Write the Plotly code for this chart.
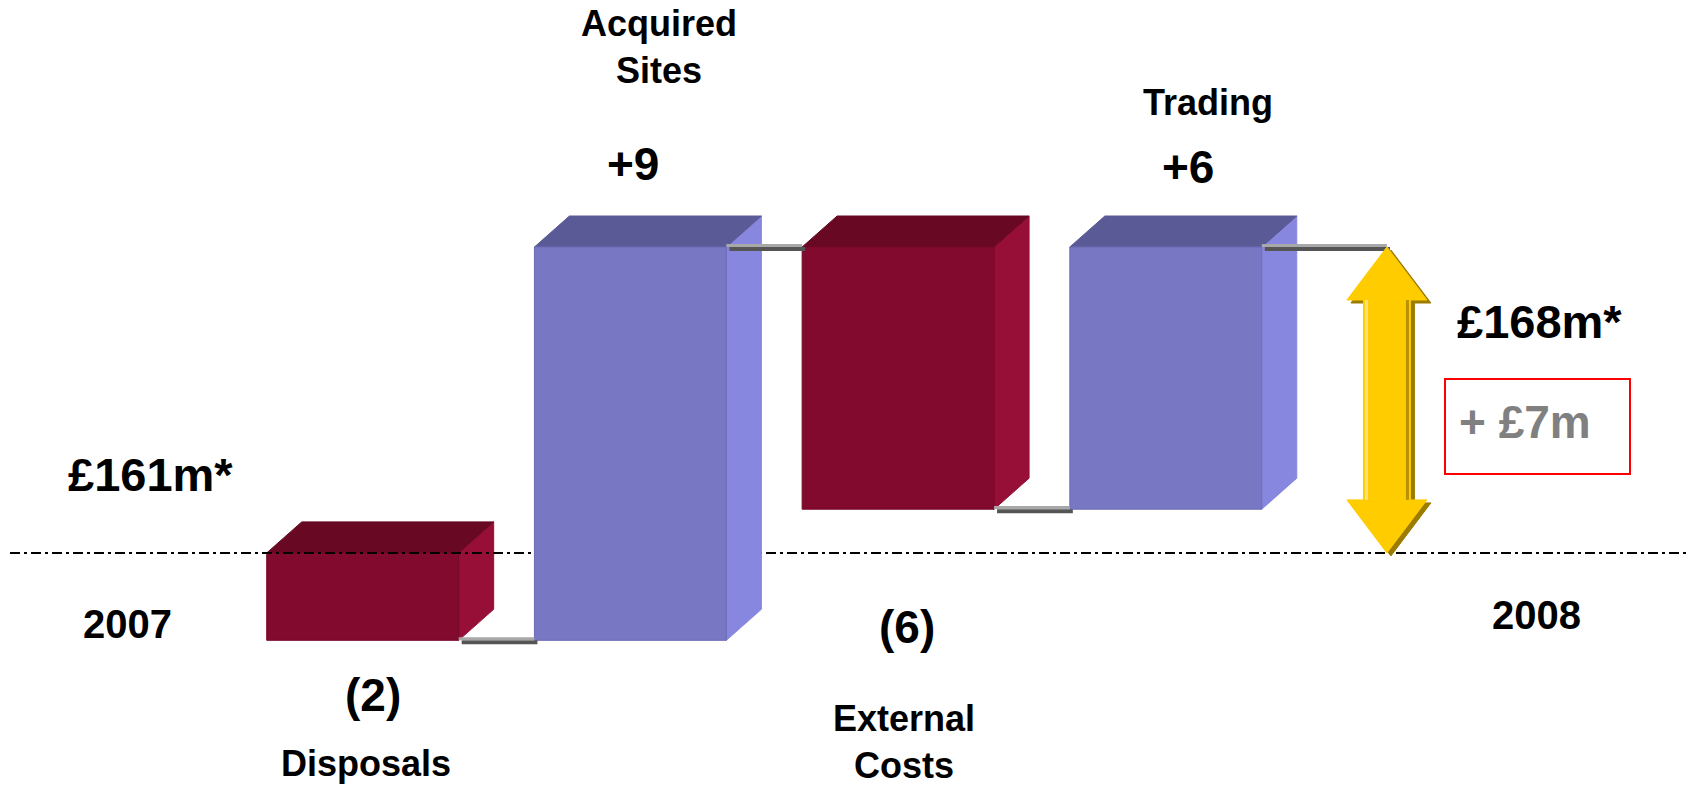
import plotly.graph_objects as go

# ---------------- data ----------------
categories = ["2007", "Disposals", "Acquired Sites", "External Costs", "Trading", "2008"]
start_value = 161          # £m, 2007
changes = [-2, 9, -6, 6]   # Disposals, Acquired Sites, External Costs, Trading
end_value = 168            # £m, 2008
change_labels = ["(2)", "+9", "(6)", "+6"]
bar_positions = [1, 2, 3, 4]
arrow_position = 4.826

# ---------------- style ----------------
W, H = 1687, 790
X0PX, XSCALE = 95.0, 267.7          # px = X0PX + XSCALE * x
Y168PX, YSCALE = 247.0, 43.7        # px = Y168PX + (168 - v) * YSCALE
xr = [-X0PX / XSCALE, (W - X0PX) / XSCALE]
yr = [168 - (H - Y168PX) / YSCALE, 168 + Y168PX / YSCALE]

bar_w = 0.717
dx = 35 / XSCALE
dy = 31 / YSCALE
FONT = "Arial, Liberation Sans, sans-serif"

pos_cols = dict(front="#7777C4", side="#8787E0", top="#5A5A96", edge="#6B6BB5")
neg_cols = dict(front="#820A2E", side="#970E36", top="#690822", edge="#760828")

fig = go.Figure()


def poly(xs, ys, color, line_color=None):
    fig.add_trace(go.Scatter(
        x=xs + [xs[0]], y=ys + [ys[0]], mode="lines", fill="toself",
        fillcolor=color, line=dict(color=line_color or color, width=1),
        hoverinfo="skip", showlegend=False))


def bar3d(xc, base, top, cols):
    x0, x1 = xc - bar_w / 2, xc + bar_w / 2
    lo, hi = min(base, top), max(base, top)
    # side face
    poly([x1, x1 + dx, x1 + dx, x1], [lo, lo + dy, hi + dy, hi], cols["side"])
    # top face
    poly([x0, x1, x1 + dx, x0 + dx], [hi, hi, hi + dy, hi + dy], cols["top"])
    # front face
    poly([x0, x1, x1, x0], [lo, lo, hi, hi], cols["front"], cols["edge"])


def connector(xa, xb, level):
    off_x = 3 / XSCALE
    off_y = 4 / YSCALE
    fig.add_trace(go.Scatter(x=[xa + off_x, xb + off_x], y=[level - off_y * 0.5, level - off_y * 0.5],
                             mode="lines", line=dict(color="#555555", width=4),
                             hoverinfo="skip", showlegend=False))
    fig.add_trace(go.Scatter(x=[xa, xb], y=[level + off_y * 0.4, level + off_y * 0.4],
                             mode="lines", line=dict(color="#A8A8A8", width=3),
                             hoverinfo="skip", showlegend=False))


# cumulative levels
levels = [start_value]
for c in changes:
    levels.append(levels[-1] + c)

# disposals bar
bar3d(bar_positions[0], levels[0], levels[1], neg_cols)

# baseline dash-dot line at 2007 level
fig.add_trace(go.Scatter(x=[(10 - X0PX) / XSCALE, xr[1]], y=[start_value, start_value],
                         mode="lines", line=dict(color="black", width=2, dash="10px,4px,3px,4px"),
                         hoverinfo="skip", showlegend=False))

for i in range(1, 4):
    cols = pos_cols if changes[i] > 0 else neg_cols
    bar3d(bar_positions[i], levels[i], levels[i + 1], cols)

# connectors
for i in range(3):
    connector(bar_positions[i] + bar_w / 2, bar_positions[i + 1] - bar_w / 2, levels[i + 1])
connector(bar_positions[3] + bar_w / 2, arrow_position, levels[4])

# double arrow from 2007 level to 2008 level
hw, sw = 40 / XSCALE, 23.5 / XSCALE
hh = 53 / YSCALE
c = arrow_position
ax = [c, c + hw, c + sw, c + sw, c + hw, c, c - hw, c - sw, c - sw, c - hw]
ay = [end_value, end_value - hh, end_value - hh, start_value + hh, start_value + hh,
      start_value, start_value + hh, start_value + hh, end_value - hh, end_value - hh]
sx, sy = 4 / XSCALE, 3 / YSCALE
poly([v + sx for v in ax], [v - sy for v in ay], "#9C7C00")
poly(ax, ay, "#FFCC00")
fig.add_trace(go.Scatter(x=[c - sw + 3 / XSCALE] * 2, y=[start_value + hh, end_value - hh],
                         mode="lines", line=dict(color="#FFE27A", width=3),
                         hoverinfo="skip", showlegend=False))
fig.add_trace(go.Scatter(x=[c + sw - 3 / XSCALE] * 2, y=[start_value + hh, end_value - hh],
                         mode="lines", line=dict(color="#B89200", width=3),
                         hoverinfo="skip", showlegend=False))

# ---------------- text ----------------
def txt(text, xpx, ypx, size, color="black"):
    fig.add_annotation(x=xpx / W, y=1 - ypx / H, xref="paper", yref="paper",
                       text=f"<b>{text}</b>", showarrow=False,
                       font=dict(family=FONT, size=size, color=color),
                       xanchor="center", yanchor="middle")


txt(f"£{start_value}m*", 150, 474, 47)
txt(f"£{end_value}m*", 1539, 322, 47)
txt(f"+ £{end_value - start_value}m", 1525, 422, 46, "#808080")
txt(categories[0], 128, 624, 40)
txt(categories[5], 1536, 615, 40)

txt("Acquired<br>Sites", 659, 47, 36)
txt(change_labels[1], 633, 164, 46)
txt(categories[4], 1208, 102, 36)
txt(change_labels[3], 1188, 167, 46)
txt(change_labels[0], 373, 695, 46)
txt(categories[1], 366, 763, 36)
txt(change_labels[2], 907, 627, 46)
txt("External<br>Costs", 904, 742, 36)

fig.add_shape(type="rect", xref="paper", yref="paper",
              x0=1445 / W, x1=1630 / W, y0=1 - 474 / H, y1=1 - 379 / H,
              line=dict(color="#FF0000", width=2))

fig.update_layout(
    width=W, height=H, margin=dict(l=0, r=0, t=0, b=0),
    paper_bgcolor="white", plot_bgcolor="white", showlegend=False,
    xaxis=dict(range=xr, visible=False, fixedrange=True),
    yaxis=dict(range=yr, visible=False, fixedrange=True),
)

fig.write_html("out.html", config={"displayModeBar": False})
